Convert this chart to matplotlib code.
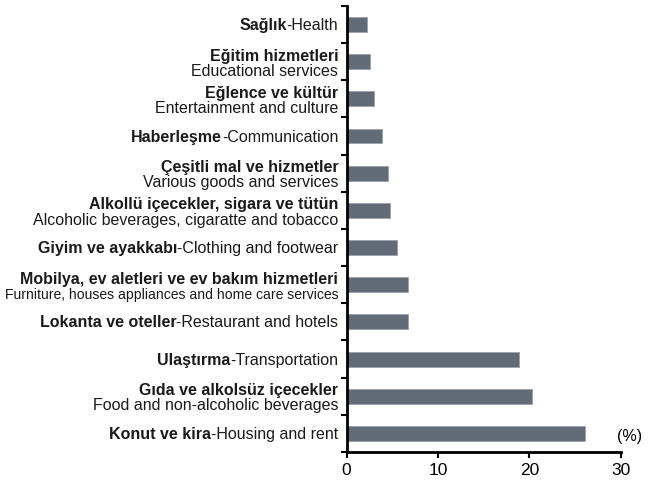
import matplotlib.pyplot as plt

plt.rcParams['font.family'] = ['Liberation Sans', 'DejaVu Sans']

# categories from top to bottom
tr_names = ['Sağlık', 'Eğitim hizmetleri', 'Eğlence ve kültür', 'Haberleşme',
            'Çeşitli mal ve hizmetler', 'Alkollü içecekler, sigara ve tütün',
            'Giyim ve ayakkabı', 'Mobilya, ev aletleri ve ev bakım hizmetleri',
            'Lokanta ve oteller', 'Ulaştırma', 'Gıda ve alkolsüz içecekler',
            'Konut ve kira']
en_names = ['Health', 'Educational services', 'Entertainment and culture',
            'Communication', 'Various goods and services',
            'Alcoholic beverages, cigaratte and tobacco', 'Clothing and footwear',
            'Furniture, houses appliances and home care services',
            'Restaurant and hotels', 'Transportation',
            'Food and non-alcoholic beverages', 'Housing and rent']
two_line = [False, True, True, False, True, True, False, True, False, False, True, False]
values = [2.2, 2.5, 3.0, 3.9, 4.5, 4.7, 5.5, 6.7, 6.7, 18.9, 20.3, 26.1]

fig = plt.figure(figsize=(6.48, 4.84), dpi=100)
ax = fig.add_axes([0.535, 0.066, 0.423, 0.922])

n = len(values)
ypos = list(range(n))
ax.barh(ypos, values, height=0.4, color='#626b76', edgecolor='#9aa1aa', linewidth=0.6)
ax.set_ylim(n - 0.5, -0.5)
ax.set_xlim(0, 30)

ax.set_yticks([i - 0.5 for i in range(n + 1)])
ax.set_yticklabels([])
ax.set_xticks([0, 10, 20, 30])
ax.tick_params(axis='x', labelsize=12.5, length=4, width=1.5, pad=4)
ax.tick_params(axis='y', length=4, width=1.5)
for s in ['top', 'right']:
    ax.spines[s].set_visible(False)
for s in ['left', 'bottom']:
    ax.spines[s].set_linewidth(2)

fs = 11.5
col = '#1a1a1a'
for i in range(n):
    if two_line[i]:
        ax.annotate(tr_names[i], xy=(0, i), xycoords=('axes fraction', 'data'),
                    xytext=(-6, 0.7), textcoords='offset points', ha='right', va='baseline',
                    fontsize=fs, fontweight='bold', color=col)
        size = 10.1 if len(en_names[i]) > 45 else fs
        ax.annotate(en_names[i], xy=(0, i), xycoords=('axes fraction', 'data'),
                    xytext=(-6, -10.2), textcoords='offset points', ha='right', va='baseline',
                    fontsize=size, color=col)
    else:
        t = ax.annotate('-' + en_names[i], xy=(0, i), xycoords=('axes fraction', 'data'),
                        xytext=(-6, -4), textcoords='offset points', ha='right', va='baseline',
                        fontsize=fs, color=col)
        ax.annotate(tr_names[i], xy=(0, 0), xycoords=t, ha='right', va='bottom',
                    fontsize=fs, fontweight='bold', color=col)

fig.text(0.991, 1 - 437 / 484, '(%)', ha='right', va='center', fontsize=11.5)

fig.savefig('out.png', dpi=100)
